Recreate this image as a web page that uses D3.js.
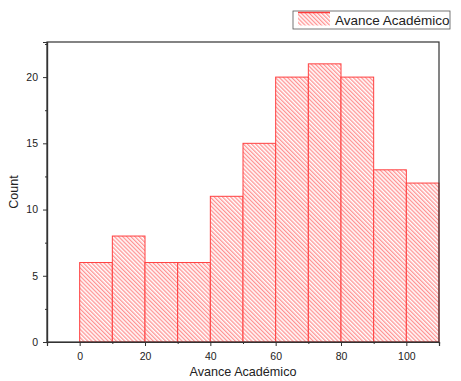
<!DOCTYPE html>
<html><head><meta charset="utf-8">
<script src="https://cdn.jsdelivr.net/npm/d3@7"></script>
<style>body{margin:0;background:#fff}svg{display:block}</style>
</head><body>
<script>
const binStarts = [0,10,20,30,40,50,60,70,80,90,100];
const binWidth = 10;
const counts = [6,8,6,6,11,15,20,21,20,13,12];
const xTicks = [0,20,40,60,80,100];
const yTicks = [0,5,10,15,20];
const seriesName = "Avance Académico";

const W=461,H=381;
const m={l:47,t:42,r:439,b:342};
const svg=d3.select("body").append("svg").attr("width",W).attr("height",H);
const defs=svg.append("defs");
const pat=defs.append("pattern").attr("id","hatch").attr("patternUnits","userSpaceOnUse")
  .attr("width",2.9).attr("height",4).attr("patternTransform","rotate(-45)");
pat.append("rect").attr("width",2.9).attr("height",4).attr("fill","#fff");
pat.append("line").attr("x1",0.7).attr("y1",0).attr("x2",0.7).attr("y2",4)
  .attr("stroke","#ff8080").attr("stroke-width",1.1);

const x=d3.scaleLinear().domain([-10,110]).range([m.l,m.r]);
const y=d3.scaleLinear().domain([0,22.65]).range([m.b,m.t]);

svg.append("g").selectAll("rect").data(counts).join("rect")
  .attr("x",(d,i)=>x(binStarts[i]))
  .attr("y",d=>y(d))
  .attr("width",(d,i)=>x(binStarts[i]+binWidth)-x(binStarts[i]))
  .attr("height",d=>y(0)-y(d))
  .attr("fill","url(#hatch)").attr("stroke","#ff4040").attr("stroke-width",1);

// frame
svg.append("rect").attr("x",m.l).attr("y",m.t).attr("width",m.r-m.l).attr("height",m.b-m.t)
  .attr("fill","none").attr("stroke","#333").attr("stroke-width",1.2);

const font="Arial, 'Liberation Sans', sans-serif";
const xa=svg.append("g").attr("transform",`translate(0,${m.b})`)
  .call(d3.axisBottom(x).tickValues(xTicks).tickSize(4).tickPadding(7).tickFormat(d3.format("d")));
const xm=svg.append("g").attr("transform",`translate(0,${m.b})`)
  .call(d3.axisBottom(x).tickValues(d3.range(-10,111,10).filter(v=>!xTicks.includes(v))).tickSize(2).tickFormat(""));
const ya=svg.append("g").attr("transform",`translate(${m.l},0)`)
  .call(d3.axisLeft(y).tickValues(yTicks).tickSize(4).tickPadding(5).tickFormat(d3.format("d")));
const ym=svg.append("g").attr("transform",`translate(${m.l},0)`)
  .call(d3.axisLeft(y).tickValues([2.5,7.5,12.5,17.5,22.5]).tickSize(2).tickFormat(""));
[xa,xm,ya,ym].forEach(g=>{
  g.select(".domain").attr("stroke","#333").attr("stroke-width",1.2);
  g.selectAll(".tick line").attr("stroke","#333");
  g.selectAll("text").attr("font-family",font).attr("font-size",10.5).attr("fill","#222");
});

svg.append("text").attr("x",243).attr("y",376).attr("text-anchor","middle")
  .attr("font-family",font).attr("font-size",12.6).attr("fill","#222").text("Avance Académico");
svg.append("text").attr("transform",`translate(18,${(m.t+m.b)/2}) rotate(-90)`).attr("text-anchor","middle")
  .attr("font-family",font).attr("font-size",12.6).attr("fill","#222").text("Count");

// legend
const lg=svg.append("g");
lg.append("rect").attr("x",293).attr("y",11).attr("width",157).attr("height",18)
  .attr("fill","#fff").attr("stroke","#555").attr("stroke-width",0.8);
lg.append("rect").attr("x",298).attr("y",12.5).attr("width",32).attr("height",13)
  .attr("fill","url(#hatch)");
lg.append("line").attr("x1",298).attr("x2",330).attr("y1",12.5).attr("y2",12.5)
  .attr("stroke","#ff3b3b").attr("stroke-width",1.5);
lg.append("text").attr("x",335).attr("y",25).attr("font-family",font).attr("font-size",13.5)
  .attr("fill","#222").text(seriesName);
</script>
</body></html>
